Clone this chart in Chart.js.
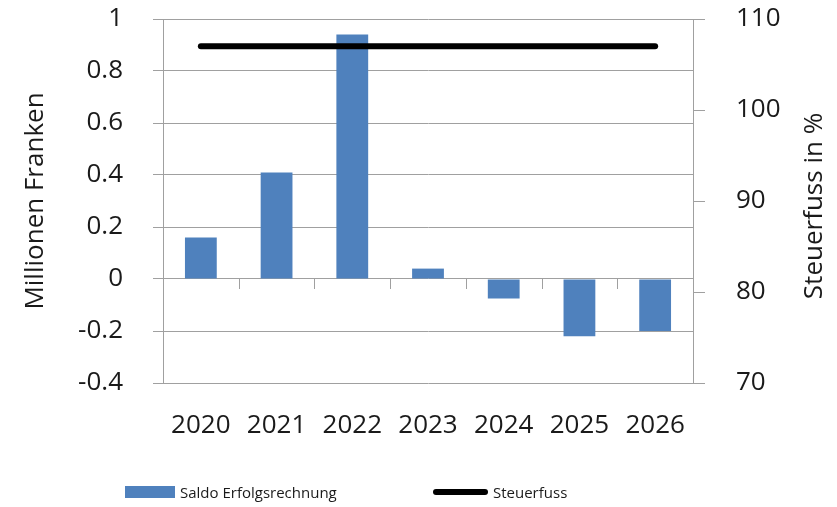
<!DOCTYPE html>
<html>
<head>
<meta charset="utf-8">
<script src="https://cdn.jsdelivr.net/npm/chart.js@4"></script>
<style>
  html, body { margin: 0; padding: 0; background: #fff; }
  #wrap { position: relative; width: 837px; height: 507px; }
  #legend { position: absolute; left: 0; top: 480px; width: 837px; height: 24px;
    font-family: 'Open Sans', sans-serif; font-size: 15px; color: #1a1a1a; }
  .item { position: absolute; top: 0; height: 24px; display: flex; align-items: center; }
  .swatch { display: inline-block; margin-right: 5px; }
</style>
</head>
<body>
<div id="wrap">
  <canvas id="chart" width="837" height="507"></canvas>
  <div id="legend"></div>
</div>
<script>
const years = ['2020', '2021', '2022', '2023', '2024', '2025', '2026'];
const saldoErfolgsrechnung = [0.16, 0.41, 0.94, 0.04, -0.075, -0.22, -0.20];
const steuerfuss = [107, 107, 107, 107, 107, 107, 107];
const leftTicks = [-0.4, -0.2, 0, 0.2, 0.4, 0.6, 0.8, 1];
const rightTicks = [70, 80, 90, 100, 110];

const textColor = '#1a1a1a';
const gridColor = '#a0a0a0';
const font = 'Open Sans';

// small tick marks on the zero line between the categories,
// plus the right axis title (reads bottom to top like the left one)
const extras = {
  id: 'extras',
  afterDatasetsDraw(chart) {
    const { ctx, scales: { x, y, y1 } } = chart;
    const y0 = y.getPixelForValue(0);
    ctx.save();
    ctx.strokeStyle = gridColor;
    ctx.lineWidth = 1;
    for (let i = 0; i <= years.length; i++) {
      const px = Math.round(x.getPixelForValue(i - 0.5)) + 0.5;
      ctx.beginPath();
      ctx.moveTo(px, y0);
      ctx.lineTo(px, y0 + 10);
      ctx.stroke();
    }
    ctx.restore();

    ctx.save();
    ctx.translate(815, (y1.top + y1.bottom) / 2 + 5);
    ctx.rotate(-Math.PI / 2);
    ctx.fillStyle = textColor;
    ctx.font = '26px "' + font + '"';
    ctx.textAlign = 'center';
    ctx.textBaseline = 'middle';
    ctx.fillText('Steuerfuss in %', 0, 0);
    ctx.restore();
  }
};

const fitY = width => scale => {
  scale.width = width;
  scale.paddingTop = 0;
  scale.paddingBottom = 0;
};

const chart = new Chart(document.getElementById('chart'), {
  data: {
    labels: years,
    datasets: [
      {
        type: 'bar',
        label: 'Saldo Erfolgsrechnung',
        data: saldoErfolgsrechnung,
        backgroundColor: '#4f81bd',
        yAxisID: 'y',
        categoryPercentage: 1,
        barPercentage: 0.42,
        order: 1,
      },
      {
        type: 'line',
        label: 'Steuerfuss',
        data: steuerfuss,
        borderColor: '#000000',
        borderWidth: 6,
        borderCapStyle: 'round',
        pointRadius: 0,
        yAxisID: 'y1',
        order: 0,
      },
    ],
  },
  options: {
    responsive: false,
    animation: false,
    layout: { padding: { top: 19, bottom: 50 } },
    plugins: { legend: { display: false }, tooltip: { enabled: false } },
    scales: {
      x: {
        offset: true,
        grid: { display: false },
        border: { display: false },
        ticks: { color: textColor, padding: 19, font: { family: font, size: 26 } },
        afterFit(scale) { scale.height = 74; },
      },
      y: {
        position: 'left',
        min: -0.4,
        max: 1,
        afterBuildTicks(scale) { scale.ticks = leftTicks.map(v => ({ value: v })); },
        grid: { color: gridColor, tickLength: 10 },
        border: { color: gridColor },
        ticks: {
          color: textColor, padding: 30, font: { family: font, size: 26 },
          callback: v => String(v),
        },
        title: {
          display: true,
          text: 'Millionen Franken',
          color: textColor,
          font: { family: font, size: 26 },
          padding: { top: 20, bottom: 0 },
        },
        afterFit: fitY(163),
      },
      y1: {
        position: 'right',
        min: 70,
        max: 110,
        afterBuildTicks(scale) { scale.ticks = rightTicks.map(v => ({ value: v })); },
        grid: { drawOnChartArea: false, color: gridColor, tickLength: 12 },
        border: { color: gridColor },
        ticks: { color: textColor, padding: 31, font: { family: font, size: 26 } },
        afterFit: fitY(144),
      },
    },
  },
  plugins: [extras],
});

// legend built from the datasets
const legend = document.getElementById('legend');
const legendLeft = [125, 433];
chart.data.datasets.forEach((ds, i) => {
  const item = document.createElement('div');
  item.className = 'item';
  item.style.left = legendLeft[i] + 'px';
  const sw = document.createElement('span');
  sw.className = 'swatch';
  if (ds.type === 'bar') {
    sw.style.width = '50px';
    sw.style.height = '12px';
    sw.style.background = ds.backgroundColor;
  } else {
    sw.style.width = '55px';
    sw.style.height = '6px';
    sw.style.borderRadius = '3px';
    sw.style.background = ds.borderColor;
  }
  item.appendChild(sw);
  item.appendChild(document.createTextNode(ds.label));
  legend.appendChild(item);
});
</script>
</body>
</html>
